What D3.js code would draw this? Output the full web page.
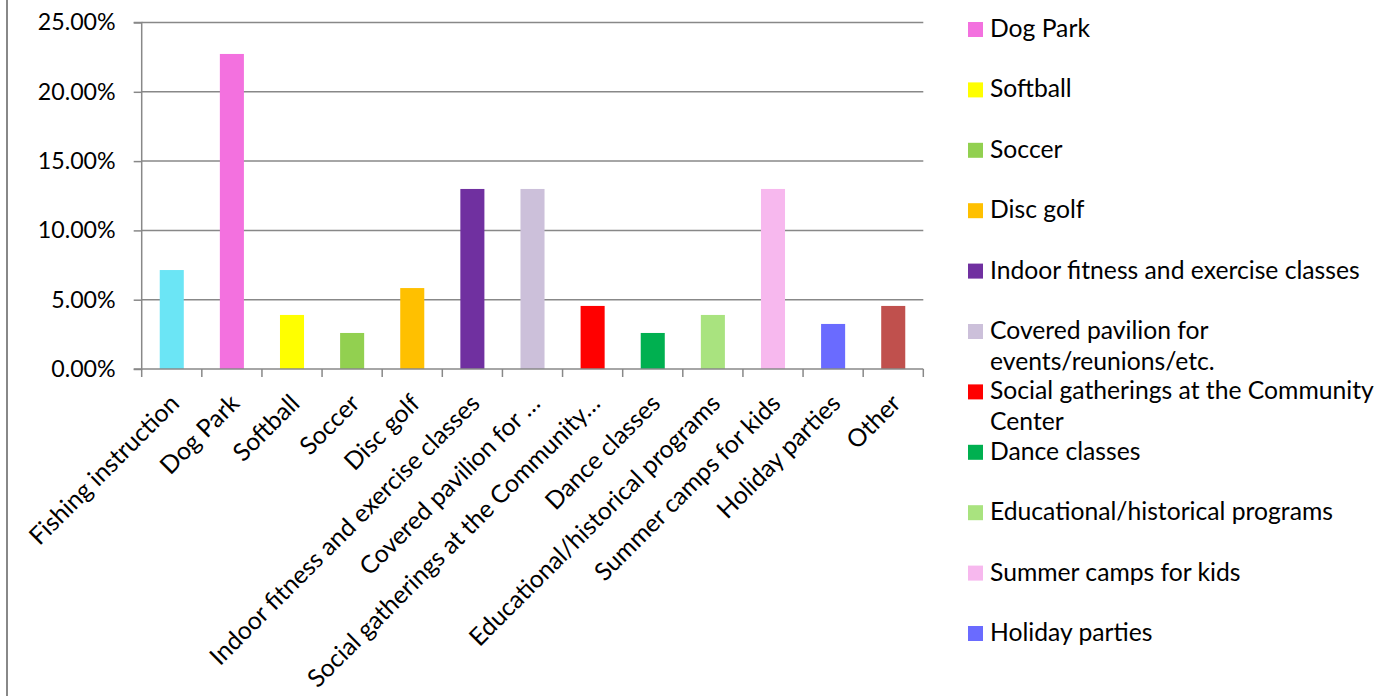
<!DOCTYPE html>
<html>
<head>
<meta charset="utf-8">
<script src="https://cdn.jsdelivr.net/npm/d3@7"></script>
<style>
  html, body { margin: 0; padding: 0; background: #fff; }
  svg { display: block; }
  text { font-family: Lato, "Open Sans", sans-serif; fill: #000; }
</style>
</head>
<body>
<svg id="chart" width="1393" height="696"></svg>
<script>
const categories = ["Fishing instruction", "Dog Park", "Softball", "Soccer", "Disc golf",
  "Indoor fitness and exercise classes", "Covered pavilion for events/reunions/etc.",
  "Social gatherings at the Community Center", "Dance classes", "Educational/historical programs",
  "Summer camps for kids", "Holiday parties", "Other"];
const tickLabels = ["Fishing instruction", "Dog Park", "Softball", "Soccer", "Disc golf",
  "Indoor fitness and exercise classes", "Covered pavilion for …",
  "Social gatherings at the Community…", "Dance classes", "Educational/historical programs",
  "Summer camps for kids", "Holiday parties", "Other"];
const values = [0.0714, 0.2273, 0.0390, 0.0260, 0.0584, 0.1299, 0.1299, 0.0455, 0.0260, 0.0390, 0.1299, 0.0325, 0.0455];
const colors = ["#6BE5F5", "#F371DF", "#FFFF00", "#92D050", "#FFC000", "#7030A0", "#CCC0DA",
  "#FF0000", "#00B050", "#A9E37F", "#F7B8EE", "#6A6BFF", "#C0504D"];
const yTicks = [0, 0.05, 0.10, 0.15, 0.20, 0.25];
const legendItems = categories.slice(1, 12);

const svg = d3.select("#chart");
const gridColor = "#888888";

// font size fitting by measurement
function fitSize(sample, targetWidth) {
  const t = svg.append("text").attr("font-size", 100).text(sample);
  const w = t.node().getComputedTextLength();
  t.remove();
  return 100 * targetWidth / w;
}
const labelSize = fitSize("Indoor fitness and exercise classes", 370);
const ySize = fitSize("25.00%", 78);

const x = d3.scaleBand().domain(categories).range([141.7, 923.3]).paddingInner(0.6).paddingOuter(0.3);
const y = d3.scaleLinear().domain([0, 0.25]).range([369, 22.5]);

// left chart border
svg.append("line").attr("x1", 7).attr("x2", 7).attr("y1", 0).attr("y2", 696)
  .attr("stroke", gridColor).attr("stroke-width", 2);

// gridlines
svg.append("g").selectAll("line").data(yTicks.slice(1)).join("line")
  .attr("x1", 141.7).attr("x2", 923.3)
  .attr("y1", d => y(d)).attr("y2", d => y(d))
  .attr("stroke", gridColor).attr("stroke-width", 1.5);

// bars
svg.append("g").selectAll("rect").data(categories).join("rect")
  .attr("x", d => x(d))
  .attr("width", x.bandwidth())
  .attr("y", (d, i) => y(values[i]))
  .attr("height", (d, i) => y(0) - y(values[i]))
  .attr("fill", (d, i) => colors[i]);

// y axis
const yAxis = svg.append("g").attr("transform", "translate(141.7,0)")
  .call(d3.axisLeft(y).tickValues(yTicks).tickFormat(d3.format(".2%")).tickSize(8).tickPadding(18));
yAxis.selectAll("path, line").attr("stroke", gridColor).attr("stroke-width", 1.5);
yAxis.select(".domain").attr("d", `M-8,${y(0.25)}H0V${y(0)}H-8`);
yAxis.selectAll("text").attr("font-size", ySize).attr("font-family", "Lato, sans-serif").attr("fill", "#000");

// x axis
const xAxis = svg.append("g").attr("transform", `translate(0,${y(0)})`)
  .call(d3.axisBottom(x).tickSize(0).tickFormat((d, i) => tickLabels[i]));
xAxis.select(".domain").attr("d", `M141.7,0H923.3`).attr("stroke", gridColor).attr("stroke-width", 1.5);
const step = x.step();
const edges = categories.map(d => x(d) - step * x.paddingInner() / 2).concat([x(categories[12]) + x.bandwidth() + step * x.paddingInner() / 2]);
xAxis.append("g").selectAll("line").data(edges).join("line")
  .attr("x1", d => d).attr("x2", d => d).attr("y1", 0).attr("y2", 8)
  .attr("stroke", gridColor).attr("stroke-width", 1.5);
xAxis.selectAll(".tick text")
  .attr("font-size", labelSize).attr("font-family", "Lato, sans-serif").attr("fill", "#000")
  .attr("text-anchor", "end")
  .attr("x", 0).attr("y", 0).attr("dy", 0)
  .attr("transform", "translate(9,36) rotate(-45)");

// legend
const legend = svg.append("g");
const maxW = 400;
legendItems.forEach((name, i) => {
  const ci = categories.indexOf(name);
  const base = 37 + 60.4 * i;
  legend.append("rect").attr("x", 968).attr("y", base - 15).attr("width", 15).attr("height", 15)
    .attr("fill", colors[ci]);
  const t = legend.append("text").attr("x", 990).attr("y", base).attr("font-size", labelSize);
  // simple word wrap by measurement
  const words = name.split(" ");
  let line = [], lineNo = 0;
  let tspan = t.append("tspan").attr("x", 990).attr("dy", 0);
  words.forEach(w => {
    line.push(w);
    tspan.text(line.join(" "));
    if (tspan.node().getComputedTextLength() > maxW && line.length > 1) {
      line.pop();
      tspan.text(line.join(" "));
      line = [w];
      lineNo++;
      tspan = t.append("tspan").attr("x", 990).attr("dy", 31).text(w);
    }
  });
});
</script>
</body>
</html>
